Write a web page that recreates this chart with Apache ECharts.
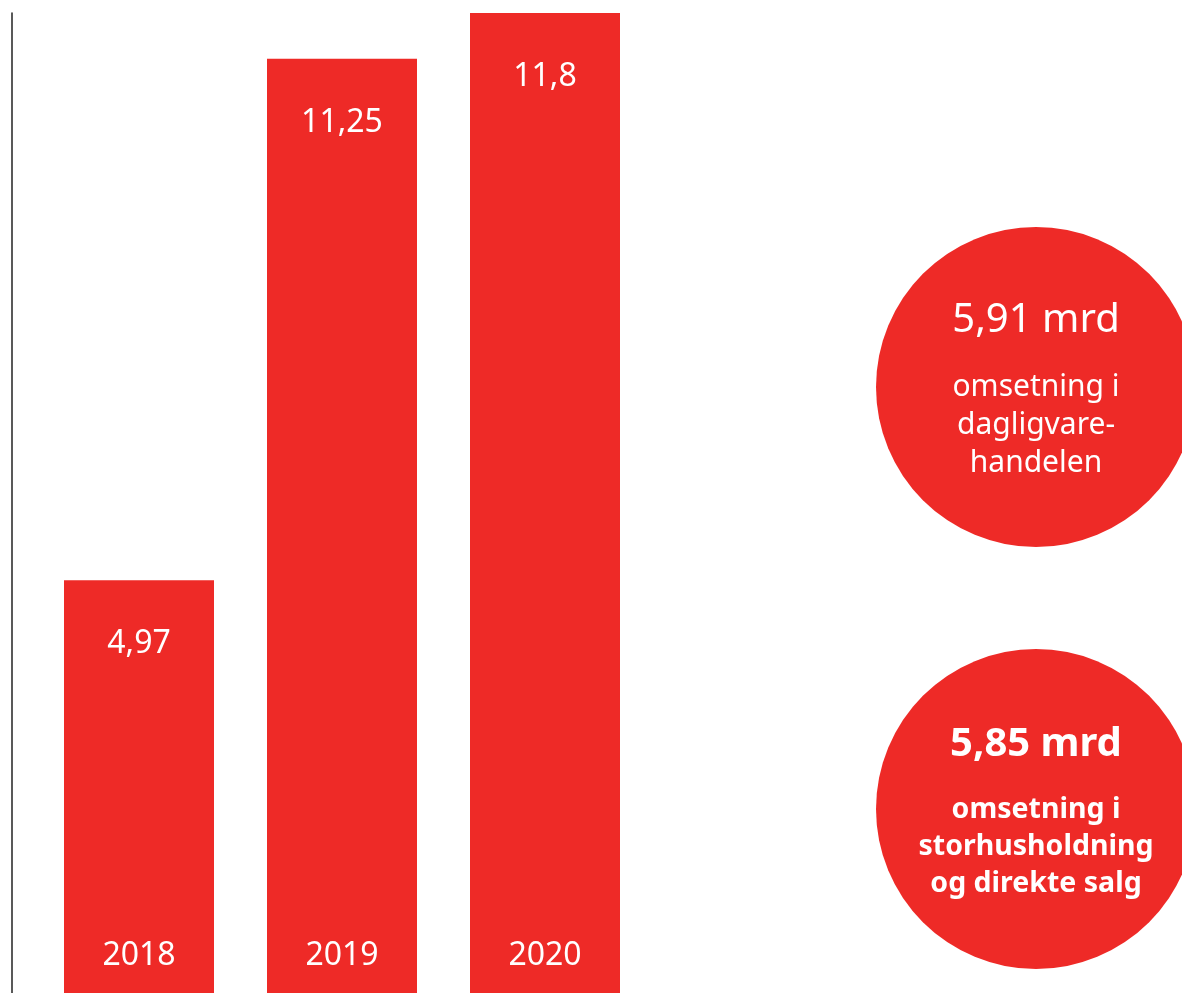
<!DOCTYPE html>
<html>
<head>
<meta charset="utf-8">
<style>html,body{margin:0;padding:0;background:#fff}#c{width:1182px;height:993px}</style>
<script src="https://cdn.jsdelivr.net/npm/echarts@6/dist/echarts.min.js"></script>
</head>
<body>
<div id="c"></div>
<script>
const years = ['2018', '2019', '2020'];
const turnover = [4.97, 11.25, 11.8];
const circleValues = [5.91, 5.85];
const circleUnit = 'mrd';
const circleTexts = [
  ['omsetning i', 'dagligvare-', 'handelen'],
  ['omsetning i', 'storhusholdning', 'og direkte salg']
];
const circleBold = [false, true];

const RED = '#ee2a27';
const FONT = '"Noto Sans", sans-serif';
const fmt = v => String(v).replace('.', ',');

const chart = echarts.init(document.getElementById('c'), null, {renderer: 'canvas'});
chart.setOption({
  animation: false,
  backgroundColor: '#fff',
  textStyle: {fontFamily: FONT},
  grid: [
    {left: 37.5, width: 609, top: 13, bottom: 0, containLabel: false},
    {left: 890, width: 292, top: 387, height: 422, containLabel: false}
  ],
  xAxis: [
    {
      type: 'category', gridIndex: 0, data: years, z: 5,
      axisLine: {show: false}, axisTick: {show: false}, splitLine: {show: false},
      axisLabel: {inside: true, margin: 21, color: '#fff', fontSize: 32, lineHeight: 32, fontFamily: FONT}
    },
    {type: 'category', gridIndex: 1, data: ['c'], show: false}
  ],
  yAxis: [
    {
      type: 'value', gridIndex: 0, min: 0, max: 11.8, offset: 25.5,
      axisLine: {show: true, lineStyle: {color: '#222', width: 1.5}},
      axisTick: {show: false}, axisLabel: {show: false}, splitLine: {show: false}
    },
    {type: 'category', gridIndex: 1, data: ['a', 'b'], inverse: true, boundaryGap: false, show: false}
  ],
  series: [
    {
      type: 'bar', xAxisIndex: 0, yAxisIndex: 0, data: turnover, barWidth: 150,
      itemStyle: {color: RED},
      label: {
        show: true, position: 'insideTop', distance: 44, color: '#fff',
        fontSize: 32, lineHeight: 40, fontFamily: FONT,
        formatter: p => fmt(p.value)
      }
    },
    {
      type: 'scatter', xAxisIndex: 1, yAxisIndex: 1, symbol: 'circle', symbolSize: 320,
      itemStyle: {color: RED, opacity: 1},
      data: circleValues.map((v, i) => ({value: [0, i]})),
      label: {
        show: true, position: 'inside', offset: [0, -9], color: '#fff', align: 'center',
        formatter: p => {
          const i = p.dataIndex;
          const b = circleBold[i] ? 'B' : '';
          return '{big' + b + '|' + fmt(circleValues[i]) + ' ' + circleUnit + '}\n' +
            circleTexts[i].map(t => '{small' + b + '|' + t + '}').join('\n');
        },
        rich: {
          big: {fontSize: 40, lineHeight: 94, color: '#fff', fontFamily: FONT},
          bigB: {fontSize: 40, lineHeight: 94, color: '#fff', fontFamily: FONT, fontWeight: 'bold'},
          small: {fontSize: 30, lineHeight: 38, color: '#fff', fontFamily: FONT},
          smallB: {fontSize: 28.5, lineHeight: 37, color: '#fff', fontFamily: FONT, fontWeight: 'bold'}
        }
      }
    }
  ]
});
</script>
</body>
</html>
